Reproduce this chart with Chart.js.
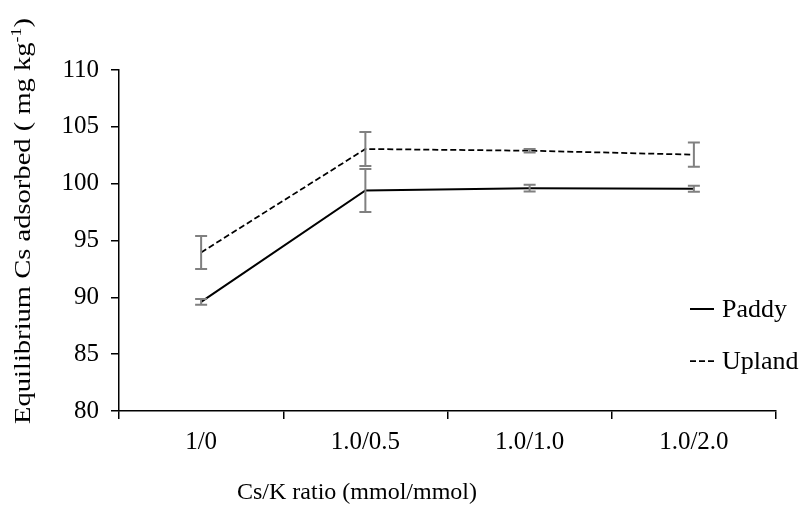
<!DOCTYPE html>
<html lang="en">
<head>
    <meta charset="UTF-8">
    <title>Cs adsorbed</title>
    <script src="https://cdn.jsdelivr.net/npm/chart.js"></script>
    <style>
        body {
            margin: 0;
            background: #fff;
        }
    </style>
</head>
<body>
    <canvas id="grafica" width="802" height="507"></canvas>

<script>
        // datos
        const categories = ['1/0', '1.0/0.5', '1.0/1.0', '1.0/2.0'];
        const paddy = [89.6, 99.4, 99.6, 99.55];
        const paddyErr = [0.25, 1.9, 0.3, 0.26];
        const upland = [93.95, 103.05, 102.9, 102.55];
        const uplandErr = [1.45, 1.5, 0.15, 1.07];
        const yMin = 80, yMax = 110, yStep = 5;

        const serif = '"Liberation Serif", "Times New Roman", serif';

        // barras de error encima de las lineas
        const errorBars = {
            id: 'errorBars',
            afterDatasetsDraw(chart) {
                const { ctx, scales: { x, y } } = chart;
                ctx.save();
                ctx.strokeStyle = '#808080';
                ctx.lineWidth = 2;
                [[paddy, paddyErr], [upland, uplandErr]].forEach(([vals, errs]) => {
                    vals.forEach((v, i) => {
                        const px = x.getPixelForValue(i);
                        const top = y.getPixelForValue(v + errs[i]);
                        const bot = y.getPixelForValue(v - errs[i]);
                        ctx.beginPath();
                        ctx.moveTo(px, top); ctx.lineTo(px, bot);
                        ctx.moveTo(px - 6, top); ctx.lineTo(px + 6, top);
                        ctx.moveTo(px - 6, bot); ctx.lineTo(px + 6, bot);
                        ctx.stroke();
                    });
                });
                ctx.restore();
            }
        };

        // titulos de ejes y leyenda
        const extras = {
            id: 'extras',
            afterDraw(chart) {
                const ctx = chart.ctx;
                ctx.save();
                ctx.fillStyle = '#000';

                // titulo eje x
                ctx.font = '24px ' + serif;
                ctx.textAlign = 'center';
                ctx.textBaseline = 'alphabetic';
                ctx.fillText('Cs/K ratio (mmol/mmol)', 357, 499);

                // titulo eje y con superindice (algo estirado como en el original)
                ctx.translate(30, 221);
                ctx.rotate(-Math.PI / 2);
                ctx.scale(1.19, 1);
                const main = 'Equilibrium Cs adsorbed ( mg kg';
                const sup = '-1';
                const close = ')';
                ctx.font = '24px ' + serif;
                const w1 = ctx.measureText(main).width;
                const w3 = ctx.measureText(close).width;
                ctx.font = '15px ' + serif;
                const w2 = ctx.measureText(sup).width;
                let xx = -(w1 + w2 + w3) / 2;
                ctx.textAlign = 'left';
                ctx.font = '24px ' + serif;
                ctx.fillText(main, xx, 0);
                xx += w1;
                ctx.font = '15px ' + serif;
                ctx.fillText(sup, xx, -9);
                xx += w2;
                ctx.font = '24px ' + serif;
                ctx.fillText(close, xx, 0);
                ctx.setTransform(1, 0, 0, 1, 0, 0);

                // leyenda
                const rows = [[chart.data.datasets[0], 309], [chart.data.datasets[1], 361]];
                ctx.textBaseline = 'middle';
                ctx.textAlign = 'left';
                ctx.font = '26px ' + serif;
                rows.forEach(([ds, ly]) => {
                    ctx.beginPath();
                    ctx.strokeStyle = ds.borderColor;
                    ctx.lineWidth = ds.borderWidth;
                    ctx.setLineDash(ds.borderDash || []);
                    ctx.moveTo(690, ly);
                    ctx.lineTo(714, ly);
                    ctx.stroke();
                    ctx.setLineDash([]);
                    ctx.fillText(ds.label, 722, ly + 1);
                });
                ctx.restore();
            }
        };

        const ctx = document.getElementById('grafica').getContext('2d');
        const grafica = new Chart(ctx, {
            type: 'line',
            data: {
                labels: categories,
                datasets: [{
                    label: 'Paddy',
                    data: paddy,
                    borderColor: '#000',
                    borderWidth: 2,
                    pointRadius: 0,
                    fill: false,
                    tension: 0
                }, {
                    label: 'Upland',
                    data: upland,
                    borderColor: '#000',
                    borderWidth: 1.75,
                    borderDash: [6, 3],
                    pointRadius: 0,
                    fill: false,
                    tension: 0
                }]
            },
            options: {
                animation: false,
                responsive: false,
                layout: {
                    padding: { top: 70, right: 26, left: 0, bottom: 0 }
                },
                plugins: {
                    legend: { display: false },
                    tooltip: { enabled: false }
                },
                scales: {
                    x: {
                        offset: true,
                        grid: {
                            offset: true,
                            drawOnChartArea: false,
                            tickLength: 8,
                            color: '#000',
                            lineWidth: 1.5
                        },
                        border: { color: '#000', width: 1.5 },
                        ticks: {
                            color: '#000',
                            font: { family: serif, size: 25 },
                            padding: 8
                        },
                        afterFit(s) { s.height = 96; }
                    },
                    y: {
                        min: yMin,
                        max: yMax,
                        grid: {
                            drawOnChartArea: false,
                            tickLength: 8,
                            color: '#000',
                            lineWidth: 1.5
                        },
                        border: { color: '#000', width: 1.5 },
                        ticks: {
                            stepSize: yStep,
                            color: '#000',
                            font: { family: serif, size: 25 },
                            padding: 12
                        },
                        afterFit(s) { s.width = 119; }
                    }
                }
            },
            plugins: [errorBars, extras]
        });
    </script>

</body>
</html>
